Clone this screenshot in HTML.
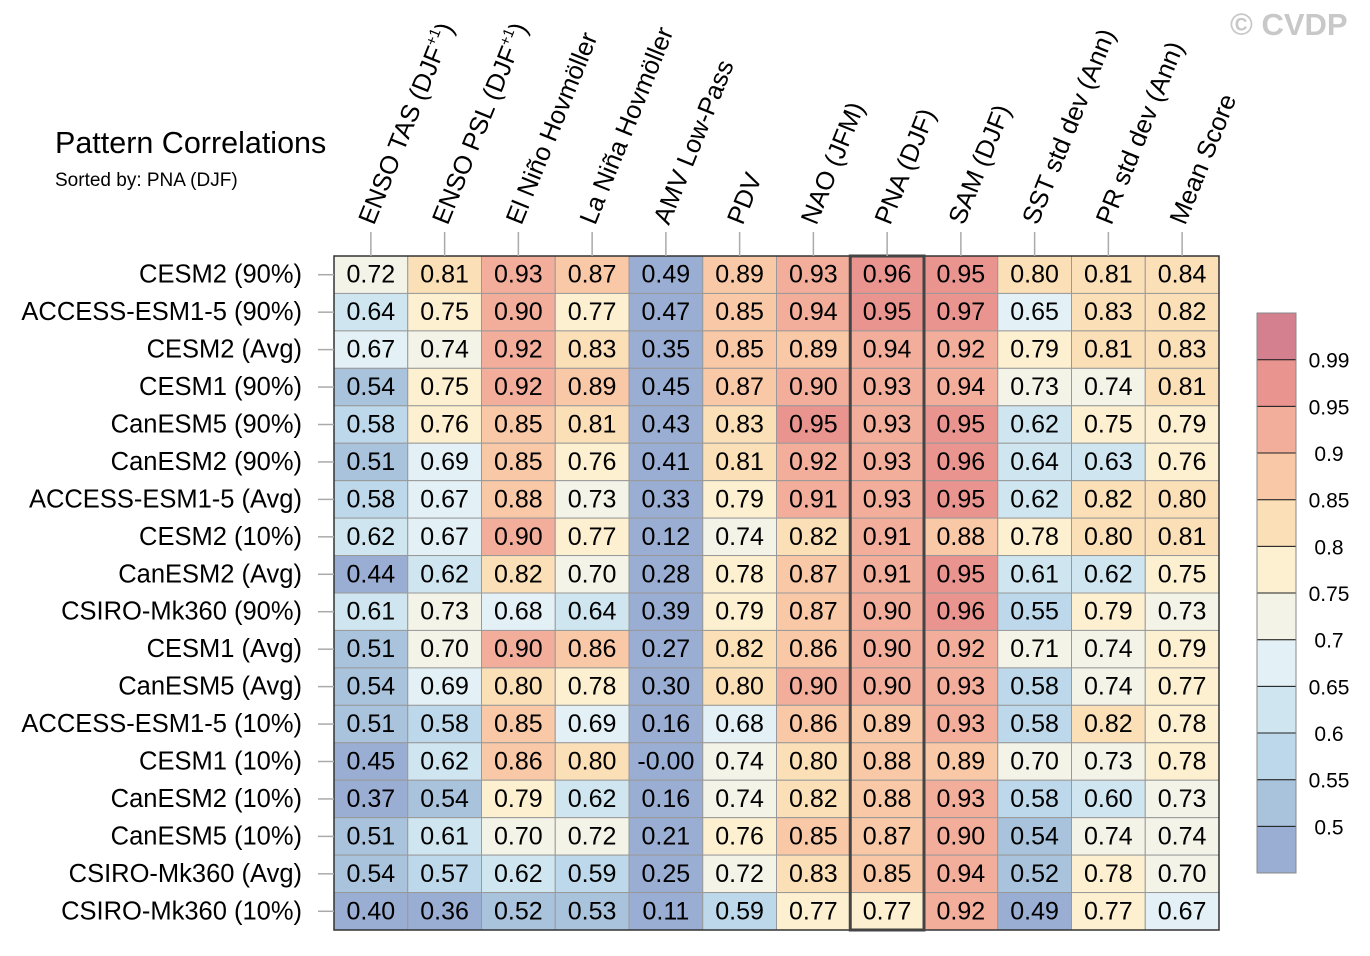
<!DOCTYPE html>
<html><head><meta charset="utf-8"><style>
body{margin:0;background:#fff;}
svg text{font-family:"Liberation Sans",sans-serif;}
</style></head><body>
<svg id="chart" width="1370" height="951" xmlns="http://www.w3.org/2000/svg">
<text x="55" y="153" font-size="30.5">Pattern Correlations</text>
<text x="55" y="186" font-size="19">Sorted by: PNA (DJF)</text>
<text x="1230" y="35" font-size="31" font-weight="bold" fill="#c8c8c8">© CVDP</text>
<g id="cells"></g><g id="grid"></g><g id="labels"></g><g id="cbar"></g>
</svg>
<script>
const columns=["ENSO TAS (DJF+1)","ENSO PSL (DJF+1)","El Niño Hovmöller","La Niña Hovmöller","AMV Low-Pass","PDV","NAO (JFM)","PNA (DJF)","SAM (DJF)","SST std dev (Ann)","PR std dev (Ann)","Mean Score"];
const rows=["CESM2 (90%)","ACCESS-ESM1-5 (90%)","CESM2 (Avg)","CESM1 (90%)","CanESM5 (90%)","CanESM2 (90%)","ACCESS-ESM1-5 (Avg)","CESM2 (10%)","CanESM2 (Avg)","CSIRO-Mk360 (90%)","CESM1 (Avg)","CanESM5 (Avg)","ACCESS-ESM1-5 (10%)","CESM1 (10%)","CanESM2 (10%)","CanESM5 (10%)","CSIRO-Mk360 (Avg)","CSIRO-Mk360 (10%)"];
const values=[
[0.72,0.81,0.93,0.87,0.49,0.89,0.93,0.96,0.95,0.80,0.81,0.84],
[0.64,0.75,0.90,0.77,0.47,0.85,0.94,0.95,0.97,0.65,0.83,0.82],
[0.67,0.74,0.92,0.83,0.35,0.85,0.89,0.94,0.92,0.79,0.81,0.83],
[0.54,0.75,0.92,0.89,0.45,0.87,0.90,0.93,0.94,0.73,0.74,0.81],
[0.58,0.76,0.85,0.81,0.43,0.83,0.95,0.93,0.95,0.62,0.75,0.79],
[0.51,0.69,0.85,0.76,0.41,0.81,0.92,0.93,0.96,0.64,0.63,0.76],
[0.58,0.67,0.88,0.73,0.33,0.79,0.91,0.93,0.95,0.62,0.82,0.80],
[0.62,0.67,0.90,0.77,0.12,0.74,0.82,0.91,0.88,0.78,0.80,0.81],
[0.44,0.62,0.82,0.70,0.28,0.78,0.87,0.91,0.95,0.61,0.62,0.75],
[0.61,0.73,0.68,0.64,0.39,0.79,0.87,0.90,0.96,0.55,0.79,0.73],
[0.51,0.70,0.90,0.86,0.27,0.82,0.86,0.90,0.92,0.71,0.74,0.79],
[0.54,0.69,0.80,0.78,0.30,0.80,0.90,0.90,0.93,0.58,0.74,0.77],
[0.51,0.58,0.85,0.69,0.16,0.68,0.86,0.89,0.93,0.58,0.82,0.78],
[0.45,0.62,0.86,0.80,-0.001,0.74,0.80,0.88,0.89,0.70,0.73,0.78],
[0.37,0.54,0.79,0.62,0.16,0.74,0.82,0.88,0.93,0.58,0.60,0.73],
[0.51,0.61,0.70,0.72,0.21,0.76,0.85,0.87,0.90,0.54,0.74,0.74],
[0.54,0.57,0.62,0.59,0.25,0.72,0.83,0.85,0.94,0.52,0.78,0.70],
[0.40,0.36,0.52,0.53,0.11,0.59,0.77,0.77,0.92,0.49,0.77,0.67]];
const levels=[0.5,0.55,0.6,0.65,0.7,0.75,0.8,0.85,0.9,0.95,0.99];
const levelLabels=["0.5","0.55","0.6","0.65","0.7","0.75","0.8","0.85","0.9","0.95","0.99"];
const palette=["#9aadd2","#a9c3dd","#bdd8ea","#cfe6f0","#e3f1f6","#f3f3e8","#fdf0d0","#fbdfb7","#f9c8a6","#f2ad9b","#e9948f","#d4808f"];
const highlightCol=7;

const NS="http://www.w3.org/2000/svg";
const X0=334,X1=1219,Y0=256,Y1=930;
const cw=(X1-X0)/columns.length, rh=(Y1-Y0)/rows.length;
const xOf=i=>X0+i*cw, yOf=j=>Y0+j*rh;
function colorOf(v){let k=0;while(k<levels.length&&v>=levels[k])k++;return palette[k];}
function fmt(v){const s=Math.abs(v).toFixed(2);return v<0?'-'+s:s;}
function mk(tag,attrs,parent){const e=document.createElementNS(NS,tag);for(const a in attrs)e.setAttribute(a,attrs[a]);parent.appendChild(e);return e;}
const cells=document.getElementById('cells'),grid=document.getElementById('grid'),labels=document.getElementById('labels'),cbar=document.getElementById('cbar');
values.forEach((row,j)=>row.forEach((v,i)=>{
  const r=mk('rect',{x:xOf(i),y:yOf(j),width:cw,height:rh,fill:colorOf(v),stroke:'#999','stroke-width':1},cells);
  
  
  const t=mk('text',{x:xOf(i)+cw/2,y:yOf(j)+rh/2+8,'font-size':25,'text-anchor':'middle'},cells);
  
  
  t.textContent=fmt(v);
}));
mk('rect',{x:X0,y:Y0,width:X1-X0,height:Y1-Y0,fill:'none',stroke:'#333','stroke-width':1.5},grid);
const hb=mk('rect',{x:xOf(highlightCol),y:Y0,width:cw,height:Y1-Y0,fill:'none',stroke:'#444','stroke-width':3},grid);


rows.forEach((name,j)=>{
  mk('line',{x1:318,x2:X0,y1:yOf(j)+rh/2,y2:yOf(j)+rh/2,stroke:'#aaa','stroke-width':1.5},labels);
  const t=mk('text',{x:302,y:yOf(j)+rh/2+8,'font-size':25.5,'text-anchor':'end'},labels);
  
  
  t.textContent=name;
});
columns.forEach((name,i)=>{
  const cx=xOf(i)+cw/2;
  mk('line',{x1:cx,x2:cx,y1:232,y2:Y0,stroke:'#aaa','stroke-width':1.5},labels);
  const t=mk('text',{x:0,y:0,'font-size':25.5,transform:`translate(${cx+3},226) rotate(-68)`},labels);
  
  
  if(name.includes('+1')){
    const base=name.replace('+1)','');
    const s1=mk('tspan',{},t);s1.textContent=base;
    const s2=mk('tspan',{'font-size':15,dy:-11},t);s2.textContent='+1';
    const s3=mk('tspan',{dy:11},t);s3.textContent=')';
  } else t.textContent=name;
});
const CX=1257,CWd=39,CT=313,CB=873,bh=(CB-CT)/palette.length;
palette.forEach((c,k)=>{
  const r=mk('rect',{x:CX,y:CB-(k+1)*bh,width:CWd,height:bh,fill:c,stroke:'#222','stroke-width':1},cbar);
  
  
});
mk('rect',{x:CX,y:CT,width:CWd,height:CB-CT,fill:'none',stroke:'#888','stroke-width':1},cbar);
levelLabels.forEach((l,k)=>{
  const t=mk('text',{x:1329,y:CB-(k+1)*bh+8,'font-size':21,'text-anchor':'middle'},cbar);
  
  
  t.textContent=l;
});
</script>
</body></html>
